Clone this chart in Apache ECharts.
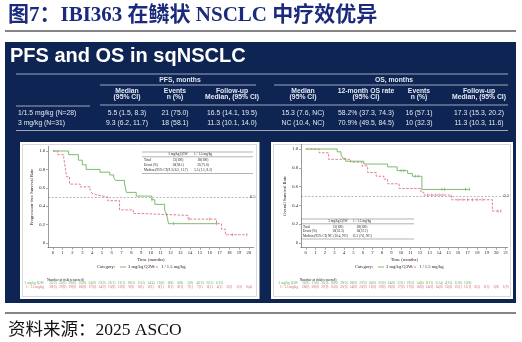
<!DOCTYPE html>
<html>
<head>
<meta charset="utf-8">
<script src="https://cdn.jsdelivr.net/npm/echarts@6/dist/echarts.min.js"></script>
<style>
html,body{margin:0;padding:0;background:#ffffff;}
#c{width:522px;height:342px;}
</style>
</head>
<body>
<div id="c"></div>
<script>
// ---------- data ----------
const pfsMonths = [0,1,2,3,4,5,6,7,8,9,10,11,12,13,14,15,16,17,18,19,20];
const osMonths = [0,1,2,3,4,5,6,7,8,9,10,11,12,13,14,15,16,17,18,19,20,21];
const survTicks = [0,0.2,0.4,0.6,0.8,1.0];

// Kaplan-Meier steps [month, survival]
const pfsHigh = [[0,1],[1.6,0.96],[2.6,0.90],[3.0,0.85],[3.4,0.80],[4.8,0.77],[5.8,0.74],[6.2,0.71],[6.4,0.68],[7.3,0.65],[7.5,0.55],[8.5,0.51],[10.1,0.47],[10.4,0.42],[11.4,0.36],[11.6,0.31],[11.8,0.21],[16.7,0.21]];
const pfsLow = [[0,1],[0.5,0.96],[1.1,0.93],[1.2,0.86],[1.3,0.79],[1.4,0.72],[1.7,0.64],[2.8,0.61],[3.8,0.57],[4.0,0.54],[4.2,0.52],[4.6,0.50],[5.6,0.46],[6.8,0.36],[8.2,0.32],[9.2,0.30],[13.8,0.26],[16.7,0.21],[17.2,0.15],[17.6,0.09],[19.8,0.09]];
const pfsHighCensor = [[10.1,0.47],[11.6,0.31],[12.3,0.21],[16.7,0.21]];
const pfsLowCensor = [[13.9,0.26],[16.0,0.26],[18.3,0.09],[19.8,0.09]];

const osHigh = [[0,1],[3.3,0.97],[3.7,0.94],[3.9,0.90],[4.2,0.87],[6.1,0.84],[8.6,0.81],[9.6,0.77],[10.7,0.74],[11.2,0.71],[12.2,0.57],[17.2,0.57]];
const osLow = [[0,1],[1.4,0.96],[2.4,0.89],[4.7,0.86],[5.9,0.82],[6.5,0.75],[7.4,0.71],[8.2,0.68],[8.6,0.63],[9.8,0.58],[12.1,0.54],[12.4,0.51],[15.3,0.46],[19.6,0.34],[20.5,0.34]];
const osHighCensor = [[10.0,0.77],[10.3,0.77],[11.5,0.71],[11.8,0.71],[14.3,0.57],[14.6,0.57],[16.8,0.57],[17.2,0.57]];
const osLowCensor = [[12.8,0.51],[13.2,0.51],[13.6,0.51],[14.0,0.51],[14.4,0.51],[16.0,0.46],[16.5,0.46],[17.0,0.46],[17.5,0.46],[18.0,0.46],[18.6,0.46],[20.2,0.34],[20.5,0.34]];

// numbers at risk (censored)
const pfsRiskHigh = ['31(0)','31(0)','29(0)','25(0)','24(0)','23(0)','21(1)','21(1)','18(2)','15(3)','14(4)','11(6)','6(8)','6(8)','5(9)','4(10)','2(11)','1(12)'];
const pfsRiskLow = ['28(0)','27(0)','19(0)','18(0)','17(0)','14(0)','13(0)','12(0)','9(0)','8(1)','8(1)','8(1)','8(1)','8(1)','7(1)','7(1)','6(1)','4(1)','2(2)','1(3)','0(4)'];
const osRiskHigh = ['31(0)','31(0)','31(0)','30(0)','29(0)','28(0)','27(0)','26(0)','25(0)','24(0)','22(1)','19(3)','14(6)','6(13)','5(14)','4(15)','3(16)','1(18)'];
const osRiskLow = ['28(0)','28(0)','27(0)','25(0)','25(0)','24(0)','23(0)','21(0)','19(0)','18(0)','17(0)','17(0)','16(0)','14(0)','14(0)','13(0)','12(1)','11(1)','8(3)','6(5)','3(8)','1(9)'];

// summary table
const armLabels = ['1/1.5 mg/kg (N=28)','3 mg/kg (N=31)'];
const pfsMedian = ['5.5 (1.5, 8.3)','9.3 (6.2, 11.7)'];
const pfsEvents = ['21 (75.0)','18 (58.1)'];
const pfsFollowUp = ['16.5 (14.1, 19.5)','11.3 (10.1, 14.0)'];
const osMedian = ['15.3 (7.6, NC)','NC (10.4, NC)'];
const os12m = ['58.2% (37.3, 74.3)','70.9% (49.5, 84.5)'];
const osEvents = ['16 (57.1)','10 (32.3)'];
const osFollowUp = ['17.3 (15.3, 20.2)','11.3 (10.3, 11.6)'];

// in-plot summary boxes
const boxCols = ['3 mg/kg Q3W','1 / 1.5 mg/kg'];
const boxRows = ['Total','Event (%)','Median (95% CI)'];
const pfsBoxHigh = ['31(100)','18(58.1)','9.3 (6.2, 11.7)'];
const pfsBoxLow = ['28(100)','21(75.0)','5.5 (1.5, 8.3)'];
const osBoxHigh = ['31(100)','10(32.3)','NC (10.4, NC)'];
const osBoxLow = ['28(100)','16(57.1)','15.3 (7.6, NC)'];

// ---------- style ----------
const GREEN = '#5eab4b';
const RED = '#d6607e';
const NAVY = '#0e2452';
const TXT = '#e4e8f1';
const SERIF = "'Liberation Serif','Times New Roman',serif";
const SANS = "'Liberation Sans',Arial,sans-serif";

const chart = echarts.init(document.getElementById('c'));

function xAxisCfg(idx, ticks, max) {
  return {
    gridIndex: idx, type: 'value', min: -0.5, max: max, z: 10,
    axisLine: {onZero: false, lineStyle: {color: '#555', width: 0.6}},
    axisTick: {customValues: ticks, length: 2, lineStyle: {color: '#555', width: 0.5}},
    axisLabel: {customValues: ticks, fontSize: 4.6, margin: 3, color: '#222', fontFamily: SERIF},
    splitLine: {show: false},
    name: 'Time (months)', nameLocation: 'middle', nameGap: 10,
    nameTextStyle: {fontSize: 4.6, color: '#222', fontFamily: SERIF}
  };
}
function yAxisCfg(idx, title) {
  return {
    gridIndex: idx, type: 'value', min: -0.05, max: 1.05, z: 10,
    axisLine: {show: true, onZero: false, lineStyle: {color: '#555', width: 0.6}},
    axisTick: {show: true, customValues: survTicks, length: 2, lineStyle: {color: '#555', width: 0.5}},
    axisLabel: {customValues: survTicks, fontSize: 4.6, margin: 3, color: '#222', fontFamily: SERIF,
      formatter: v => (v === 0 ? '0' : v.toFixed(1))},
    splitLine: {show: false},
    name: title, nameLocation: 'middle', nameGap: 14, nameRotate: 90,
    nameTextStyle: {fontSize: 4.6, color: '#222', fontFamily: SERIF}
  };
}
function kmLine(idx, data, color, dashed, withRef) {
  const s = {
    type: 'line', xAxisIndex: idx, yAxisIndex: idx, step: 'end', data: data,
    symbol: 'none', z: 12, animation: false,
    lineStyle: {color: color, width: 0.8, type: dashed ? [2.5, 1.5] : 'solid'}
  };
  if (withRef) {
    s.markLine = {
      silent: true, symbol: 'none', animation: false,
      lineStyle: {color: '#8a8a8a', width: 0.6, type: [2, 1.6]},
      label: {formatter: '0.5', position: 'end', fontSize: 4.6, color: '#333', fontFamily: SERIF, distance: [-4, 3]},
      data: [{yAxis: 0.5}]
    };
  }
  return s;
}
function censor(idx, data, color) {
  return {
    type: 'scatter', xAxisIndex: idx, yAxisIndex: idx, data: data, z: 13, animation: false,
    symbol: 'rect', symbolSize: [0.7, 3.2], itemStyle: {color: color}
  };
}

chart.setOption({
  animation: false,
  grid: [
    {left: 48, top: 146.4, width: 205.8, height: 101.2},
    {left: 301, top: 144.3, width: 206.6, height: 103.4}
  ],
  xAxis: [xAxisCfg(0, pfsMonths, 20.5), xAxisCfg(1, osMonths, 21.2)],
  yAxis: [yAxisCfg(0, 'Progression-free Survival Rate'), yAxisCfg(1, 'Overall Survival Rate')],
  series: [
    kmLine(0, pfsLow, RED, true, true),
    kmLine(0, pfsHigh, GREEN, false, false),
    censor(0, pfsHighCensor, GREEN),
    censor(0, pfsLowCensor, RED),
    kmLine(1, osLow, RED, true, true),
    kmLine(1, osHigh, GREEN, false, false),
    censor(1, osHighCensor, GREEN),
    censor(1, osLowCensor, RED)
  ]
});

// ---------- page furniture (title, panel, table, legends, risk table) ----------
function T(x, y, text, size, o) {
  o = o || {};
  return {type: 'text', x: x, y: y, silent: true, z: o.z || 5,
    style: {text: text, fill: o.fill || '#222', align: o.align || 'left', verticalAlign: 'middle',
      font: (o.bold ? 'bold ' : '') + size + 'px ' + (o.family || SERIF)}};
}
function L(x1, y1, x2, y2, stroke, lw, dash) {
  return {type: 'line', silent: true, z: 4, shape: {x1: x1, y1: y1, x2: x2, y2: y2},
    style: {stroke: stroke, lineWidth: lw, lineDash: dash || null}};
}
function R(x, y, w, h, fill, stroke, z) {
  return {type: 'rect', silent: true, z: z || 1, shape: {x: x, y: y, width: w, height: h},
    style: {fill: fill || 'none', stroke: stroke || 'none', lineWidth: 0.7}};
}

const g = [];
// heading
g.push(T(8, 16, '图7：IBI363 在鳞状 NSCLC 中疗效优异', 21, {bold: true, fill: '#1b2a7c', family: SERIF + ",'Noto Sans CJK SC'"}));
g.push(L(5, 31, 516, 31, '#858585', 2));
// navy panel
g.push(R(5, 42, 511, 261, NAVY, null, 0));
g.push(T(10, 56, 'PFS and OS in sqNSCLC', 20, {bold: true, fill: '#ffffff', family: SANS}));

// summary table
const TL = '#c3cadb';
g.push(L(16, 74, 508, 74, TL, 0.8));
g.push(L(100, 85, 256, 85, TL, 0.8));
g.push(L(274, 85, 508, 85, TL, 0.8));
g.push(L(16, 106, 90, 106, TL, 0.8));
g.push(L(100, 105, 508, 105, TL, 0.8));
g.push(L(16, 130.5, 508, 130.5, TL, 0.8));
const th = {bold: true, fill: TXT, family: SANS, align: 'center'};
const td = {fill: TXT, family: SANS, align: 'center'};
g.push(T(180, 80, 'PFS, months', 6.8, th));
g.push(T(394, 80, 'OS, months', 6.8, th));
const heads = [
  [127, 'Median', '(95% CI)'], [175, 'Events', 'n (%)'], [232, 'Follow-up', 'Median, (95% CI)'],
  [303, 'Median', '(95% CI)'], [366, '12-month OS rate', '(95% CI)'], [419, 'Events', 'n (%)'], [479, 'Follow-up', 'Median, (95% CI)']
];
heads.forEach(h => { g.push(T(h[0], 91, h[1], 6.8, th)); g.push(T(h[0], 97.5, h[2], 6.8, th)); });
const rowY = [113, 123];
const cols = [[127, pfsMedian], [175, pfsEvents], [232, pfsFollowUp], [303, osMedian], [366, os12m], [419, osEvents], [479, osFollowUp]];
armLabels.forEach((a, i) => {
  g.push(T(18, rowY[i], a, 6.8, {fill: TXT, family: SANS}));
  cols.forEach(c => g.push(T(c[0], rowY[i], c[1][i], 6.8, td)));
});

// chart cards
g.push(R(20, 142, 239.5, 157, '#ffffff', null, 1));
g.push(R(22.5, 144.5, 234, 152, null, '#c8c8c8', 2));
g.push(R(271, 142, 242, 157, '#ffffff', null, 1));
g.push(R(273.5, 144.5, 237, 152, null, '#c8c8c8', 2));

// category legends
function legend(x0, y) {
  g.push(T(x0, y, 'Category:', 4.6));
  g.push(L(x0 + 23, y, x0 + 29, y, GREEN, 0.8));
  g.push(T(x0 + 31, y, '3 mg/kg Q3W', 4.6));
  g.push(L(x0 + 56, y, x0 + 62, y, RED, 0.8, [2, 1]));
  g.push(T(x0 + 64, y, '1 / 1.5 mg/kg', 4.6));
}
legend(97, 267);
legend(355, 267);

// in-plot summary boxes
function sumBox(x0, x1, yTop, rowH, c1, c2, hi, lo) {
  g.push(L(x0, yTop, x1, yTop, '#666', 0.5));
  g.push(T(c1, yTop + 2.4, boxCols[0], 3.4, {align: 'center'}));
  g.push(T(c2, yTop + 2.4, boxCols[1], 3.4, {align: 'center'}));
  g.push(L(x0, yTop + 4.8, x1, yTop + 4.8, '#666', 0.5));
  boxRows.forEach((r, i) => {
    const y = yTop + 8 + i * rowH;
    g.push(T(x0 + 2, y, r, 3.4));
    g.push(T(c1, y, hi[i], 3.4, {align: 'center'}));
    g.push(T(c2, y, lo[i], 3.4, {align: 'center'}));
  });
  g.push(L(x0, yTop + 8 + 3 * rowH - 1.5, x1, yTop + 8 + 3 * rowH - 1.5, '#666', 0.5));
}
sumBox(142, 253, 152, 5, 178, 203, pfsBoxHigh, pfsBoxLow);
sumBox(301, 414, 219, 4.5, 338, 362, osBoxHigh, osBoxLow);

// numbers at risk
function riskTable(axisIdx, labelX, hi, lo) {
  const x0 = chart.convertToPixel({xAxisIndex: axisIdx}, 0);
  g.push(T(x0 - 6, 280, 'Number at risk(censored)', 3.6));
  g.push(T(labelX, 283.5, '3 mg/kg Q3W', 3.4, {align: 'right', fill: GREEN}));
  g.push(T(labelX, 287.5, '1 / 1.5 mg/kg', 3.4, {align: 'right', fill: RED}));
  hi.forEach((v, m) => g.push(T(chart.convertToPixel({xAxisIndex: axisIdx}, m), 283.5, v, 3.4, {align: 'center', fill: GREEN})));
  lo.forEach((v, m) => g.push(T(chart.convertToPixel({xAxisIndex: axisIdx}, m), 287.5, v, 3.4, {align: 'center', fill: RED})));
}
riskTable(0, 44, pfsRiskHigh, pfsRiskLow);
riskTable(1, 298, osRiskHigh, osRiskLow);

// footer
g.push(L(5, 313, 516, 313, '#858585', 2));
g.push(T(8, 330, '资料来源：2025 ASCO', 17.5, {fill: '#111', family: SERIF + ",'Noto Sans CJK SC'"}));

chart.setOption({graphic: {elements: g}});
</script>
</body>
</html>
